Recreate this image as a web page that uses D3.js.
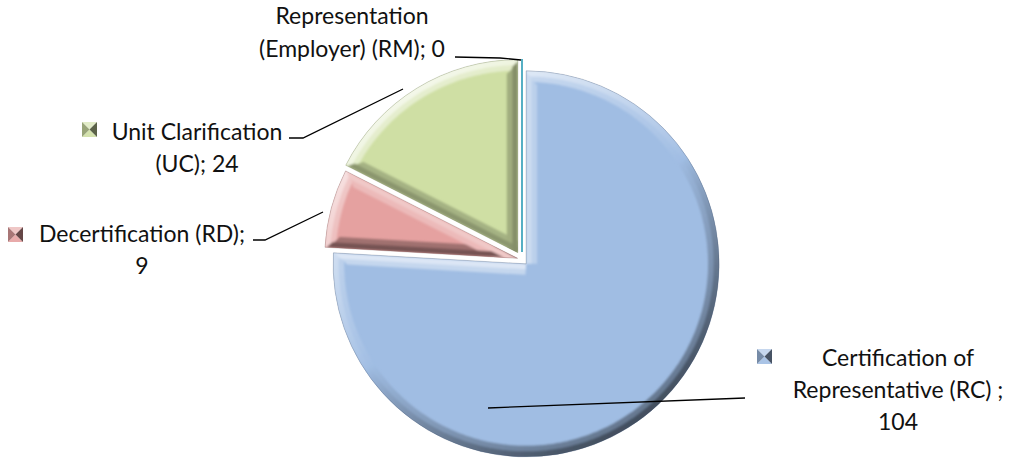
<!DOCTYPE html>
<html><head><meta charset="utf-8">
<script src="https://cdn.jsdelivr.net/npm/d3@7"></script>
<style>body{margin:0;background:#fff}svg{display:block}</style>
</head><body><svg id="c" width="1017" height="460"></svg>
<script>
// ---- data ----
const categories = ["Certification of Representative (RC)", "Decertification (RD)", "Unit Clarification (UC)", "Representation (Employer) (RM)"];
const values = [104, 9, 24, 0];
const labelLines = [
  ["Certification of", "Representative (RC) ;", "104"],
  ["Decertification (RD);", "9"],
  ["Unit Clarification", "(UC); 24"],
  ["Representation", "(Employer) (RM); 0"]
];
// ---- style / layout ----
const colors = ["#a0bde3", "#e5a1a0", "#cfdfa4", "#2b9bb5"];
const W = 1017, H = 460, cx = 522, cy = 259.5, R = 193, bevel = 11;
const explode = [6, 4.5, 8, 7.5];
const labelLayout = [
  {x: 898, y: 366, lh: 32, marker: [757, 349]},
  {x: 142, y: 242, lh: 32, marker: [8, 227]},
  {x: 197, y: 140, lh: 32, marker: [82, 122]},
  {x: 352, y: 24, lh: 33, marker: null}
];
const leaders = [
  [[488, 408], [745, 398]],
  [[253, 240], [265, 240], [323, 212]],
  [[289, 138], [303, 138], [403, 89]],
  [[455, 57], [500, 58], [521, 60]]
];
const fontFamily = "Lato, 'Open Sans', sans-serif";
const fontSize = 23;

const svg = d3.select("#c");
svg.append("rect").attr("width", W).attr("height", H).attr("fill", "#fff");
const defs = svg.append("defs");
defs.append("filter").attr("id", "blur").attr("x", "-10%").attr("y", "-10%").attr("width", "120%").attr("height", "120%")
  .append("feGaussianBlur").attr("stdDeviation", 1.2);

const pie = d3.pie().sort(null).value(d => d).startAngle(0).endAngle(2 * Math.PI);
const arcs = pie(values);
const arcGen = d3.arc().innerRadius(0).outerRadius(R);

const Lraw = [-0.55, -0.83];
const Ln = Math.hypot(Lraw[0], Lraw[1]);
const L = [Lraw[0] / Ln, Lraw[1] / Ln];
function shade(base, n, k) {
  const s = (n[0] * L[0] + n[1] * L[1]) * k;
  if (s >= 0) return d3.interpolateRgb(base, "#ffffff")(Math.pow(s, 0.8) * 0.75);
  return d3.interpolateRgb(base, d3.color(base).darker(3.2))(Math.pow(-s, 0.8) * 0.85);
}

const faceLayer = svg.append("g");
const bevelLayer = svg.append("g");
const zeroLayer = svg.append("g");

arcs.forEach((d, i) => {
  const mid = (d.startAngle + d.endAngle) / 2;
  const vx = cx + explode[i] * Math.sin(mid), vy = cy - explode[i] * Math.cos(mid);
  const base = colors[i];
  if (d.value === 0) {
    const a = d.startAngle;
    zeroLayer.append("line").attr("transform", `translate(${vx},${vy})`)
      .attr("x1", 0).attr("y1", 0)
      .attr("x2", R * Math.sin(a)).attr("y2", -R * Math.cos(a))
      .attr("stroke", base).attr("stroke-width", 1.6);
    return;
  }
  const pathD = arcGen(d);
  faceLayer.append("path").attr("d", pathD).attr("transform", `translate(${vx},${vy})`).attr("fill", base);
  defs.append("clipPath").attr("id", "clip" + i).append("path").attr("d", pathD).attr("transform", `translate(${vx},${vy})`);
  const bg = bevelLayer.append("g").attr("clip-path", `url(#clip${i})`);
  const bv = bg.append("g").attr("transform", `translate(${vx},${vy})`).attr("filter", "url(#blur)");
  const a0 = d.startAngle, a1 = d.endAngle;
  const n = Math.max(2, Math.ceil((a1 - a0) / (Math.PI / 180)));
  const step = (a1 - a0) / n;
  // two passes: full bevel width at softer shade, outer half at full shade
  [[bevel, 0.55], [bevel * 0.5, 1]].forEach(([bw, k]) => {
    const rimArc = d3.arc().innerRadius(R - bw).outerRadius(R + 3);
    for (let q = 0; q < n; q++) {
      const s0 = a0 + q * step, s1 = s0 + step + 0.004, m = (s0 + s1) / 2;
      bv.append("path").attr("d", rimArc({startAngle: s0, endAngle: s1}))
        .attr("fill", shade(base, [Math.sin(m), -Math.cos(m)], k));
    }
    [[a0, [Math.cos(a0), Math.sin(a0)]], [a1, [-Math.cos(a1), -Math.sin(a1)]]].forEach(([a, nin]) => {
      const e = [Math.sin(a), -Math.cos(a)];
      const far = R - bw * 0.3;
      const pts = [
        [0, 0], [e[0] * far, e[1] * far],
        [e[0] * (far - bw) + nin[0] * bw, e[1] * (far - bw) + nin[1] * bw],
        [nin[0] * bw, nin[1] * bw]
      ];
      bv.append("polygon").attr("points", pts.map(p => p.join(",")).join(" "))
        .attr("fill", shade(base, [-nin[0], -nin[1]], k));
    });
  });
  bevelLayer.append("path").attr("d", pathD).attr("transform", `translate(${vx},${vy})`)
    .attr("fill", "none").attr("stroke", d3.color(base).darker(2.5)).attr("stroke-opacity", 0.3).attr("stroke-width", 0.8);
});

// leaders
const lineGen = d3.line();
leaders.forEach(pts => {
  svg.append("path").attr("d", lineGen(pts)).attr("fill", "none").attr("stroke", "#000").attr("stroke-width", 1.3);
});

// labels
labelLines.forEach((lines, i) => {
  const lay = labelLayout[i];
  const t = svg.append("text").attr("font-family", fontFamily).attr("font-size", fontSize)
    .attr("fill", "#111").attr("text-anchor", "middle");
  lines.forEach((ln, j) => {
    t.append("tspan").attr("x", lay.x).attr("y", lay.y + j * lay.lh).text(ln);
  });
  if (lay.marker) {
    const [mx, my] = lay.marker, s = 15, base = colors[i];
    const c = [mx + s / 2, my + s / 2];
    const tris = [
      [[mx, my], [mx + s, my], c, d3.interpolateRgb(base, "#fff")(0.4)],
      [[mx, my + s], [mx + s, my + s], c, d3.interpolateRgb(base, "#fff")(0.1)],
      [[mx, my], [mx, my + s], c, d3.interpolateRgb(base, d3.color(base).darker(2.5))(0.45)],
      [[mx + s, my], [mx + s, my + s], c, d3.interpolateRgb(base, d3.color(base).darker(3))(0.85)]
    ];
    tris.forEach(tr => {
      svg.append("polygon").attr("points", tr.slice(0, 3).map(p => p.join(",")).join(" ")).attr("fill", tr[3]);
    });
  }
});
</script></body></html>
